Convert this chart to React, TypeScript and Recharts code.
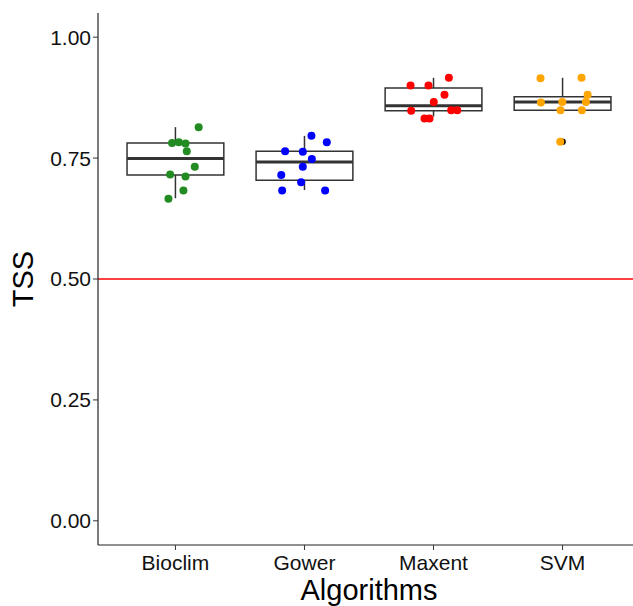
import {
  ComposedChart,
  Scatter,
  XAxis,
  YAxis,
  ReferenceArea,
  ReferenceLine,
} from 'recharts';

const categories = ['Bioclim', 'Gower', 'Maxent', 'SVM'];
const pointColors = ['#228B22', '#0000FF', '#FF0000', '#FFA500'];
const yTicks = [0, 0.25, 0.5, 0.75, 1];

// TSS per run, and horizontal jitter (in category units)
const bioclimTSS = [0.814, 0.781, 0.783, 0.78, 0.764, 0.732, 0.716, 0.712, 0.683, 0.666];
const bioclimJitter = [0.18, -0.026, 0.026, 0.078, 0.088, 0.15, -0.041, 0.078, 0.062, -0.054];
const gowerTSS = [0.796, 0.783, 0.764, 0.763, 0.748, 0.732, 0.715, 0.7, 0.683, 0.683];
const gowerJitter = [0.054, 0.173, -0.15, -0.013, 0.057, -0.013, -0.18, -0.026, -0.173, 0.16];
const maxentTSS = [0.916, 0.9, 0.9, 0.881, 0.866, 0.848, 0.849, 0.849, 0.832, 0.832];
const maxentJitter = [0.119, -0.178, -0.039, 0.085, 0.002, -0.173, 0.137, 0.184, -0.07, -0.031];
const svmTSS = [0.915, 0.916, 0.881, 0.866, 0.865, 0.866, 0.849, 0.849, 0.784];
const svmJitter = [-0.171, 0.147, 0.194, 0.181, -0.168, -0.002, -0.016, 0.15, -0.018];

// box statistics
const whiskerLow = [0.667, 0.684, 0.836, 0.849];
const q1 = [0.715, 0.704, 0.848, 0.849];
const medians = [0.749, 0.742, 0.858, 0.866];
const q3 = [0.781, 0.764, 0.895, 0.877];
const whiskerHigh = [0.814, 0.796, 0.916, 0.916];
const outliers = [{ cat: 4, tss: 0.784 }];

const threshold = 0.5;
const boxHalf = 0.375;

const groups = [
  { values: bioclimTSS, jitter: bioclimJitter },
  { values: gowerTSS, jitter: gowerJitter },
  { values: maxentTSS, jitter: maxentJitter },
  { values: svmTSS, jitter: svmJitter },
];

const FONT = '"Liberation Sans", Arial, sans-serif';
const INK = '#333333';

const dot = (color: string, r: number) => (p: any) => (
  <circle cx={p.cx} cy={p.cy} r={r} fill={color} />
);

export default function App() {
  const outlierData = outliers.map((o) => ({ x: o.cat, y: o.tss }));

  return (
    <div style={{ position: 'absolute', left: 0, top: 0, width: 633, height: 606, overflow: 'hidden', background: '#fff' }}>
      <ComposedChart
        width={660}
        height={606}
        margin={{ top: 13, right: 20, bottom: 0, left: 0 }}
        style={{ fontFamily: FONT }}
      >
        <XAxis
          type="number"
          dataKey="x"
          domain={[0.4, 4.6]}
          ticks={[1, 2, 3, 4]}
          tickFormatter={(v: number) => categories[v - 1]}
          allowDataOverflow
          height={61}
          axisLine={{ stroke: '#222', strokeWidth: 1.2 }}
          tickLine={{ stroke: INK }}
          tickSize={5}
          tickMargin={5}
          tick={{ fill: '#111', fontSize: 21, fontFamily: FONT }}
          label={{
            content: (props: any) => {
              const vb = props.viewBox;
              return (
                <text x={vb.x + vb.width / 2} y={vb.y + 55} textAnchor="middle" fontSize={29} fill="#000" fontFamily={FONT}>
                  Algorithms
                </text>
              );
            },
          }}
        />
        <YAxis
          type="number"
          dataKey="y"
          domain={[-0.05, 1.05]}
          ticks={yTicks}
          tickFormatter={(v: number) => v.toFixed(2)}
          allowDataOverflow
          width={98}
          axisLine={{ stroke: '#222', strokeWidth: 1.2 }}
          tickLine={{ stroke: INK }}
          tickSize={5}
          tickMargin={2}
          tick={{ fill: '#111', fontSize: 21, fontFamily: FONT }}
          label={{
            content: (props: any) => {
              const vb = props.viewBox;
              const cy = vb.y + vb.height / 2;
              return (
                <text x={33} y={cy} transform={`rotate(-90 33 ${cy})`} textAnchor="middle" fontSize={29} fill="#000" fontFamily={FONT}>
                  TSS
                </text>
              );
            },
          }}
        />

        <ReferenceLine y={threshold} stroke="#FF0000" strokeWidth={1.4} />

        {categories.map((c, i) => (
          <ReferenceLine
            key={`wh-${c}`}
            segment={[{ x: i + 1, y: q3[i] }, { x: i + 1, y: whiskerHigh[i] }]}
            stroke={INK}
            strokeWidth={1.5}
          />
        ))}
        {categories.map((c, i) => (
          <ReferenceLine
            key={`wl-${c}`}
            segment={[{ x: i + 1, y: whiskerLow[i] }, { x: i + 1, y: q1[i] }]}
            stroke={INK}
            strokeWidth={1.5}
          />
        ))}
        {categories.map((c, i) => (
          <ReferenceArea
            key={`box-${c}`}
            x1={i + 1 - boxHalf}
            x2={i + 1 + boxHalf}
            y1={q1[i]}
            y2={q3[i]}
            fill="#fff"
            fillOpacity={1}
            stroke={INK}
            strokeWidth={1.5}
          />
        ))}
        {categories.map((c, i) => (
          <ReferenceLine
            key={`med-${c}`}
            segment={[{ x: i + 1 - boxHalf, y: medians[i] }, { x: i + 1 + boxHalf, y: medians[i] }]}
            stroke={INK}
            strokeWidth={3}
          />
        ))}

        <Scatter data={outlierData} shape={dot('#000', 3.2)} isAnimationActive={false} />
        {groups.map((g, i) => (
          <Scatter
            key={categories[i]}
            name={categories[i]}
            data={g.values.map((v, j) => ({ x: i + 1 + g.jitter[j], y: v }))}
            shape={dot(pointColors[i], 4)}
            isAnimationActive={false}
          />
        ))}
      </ComposedChart>
    </div>
  );
}
